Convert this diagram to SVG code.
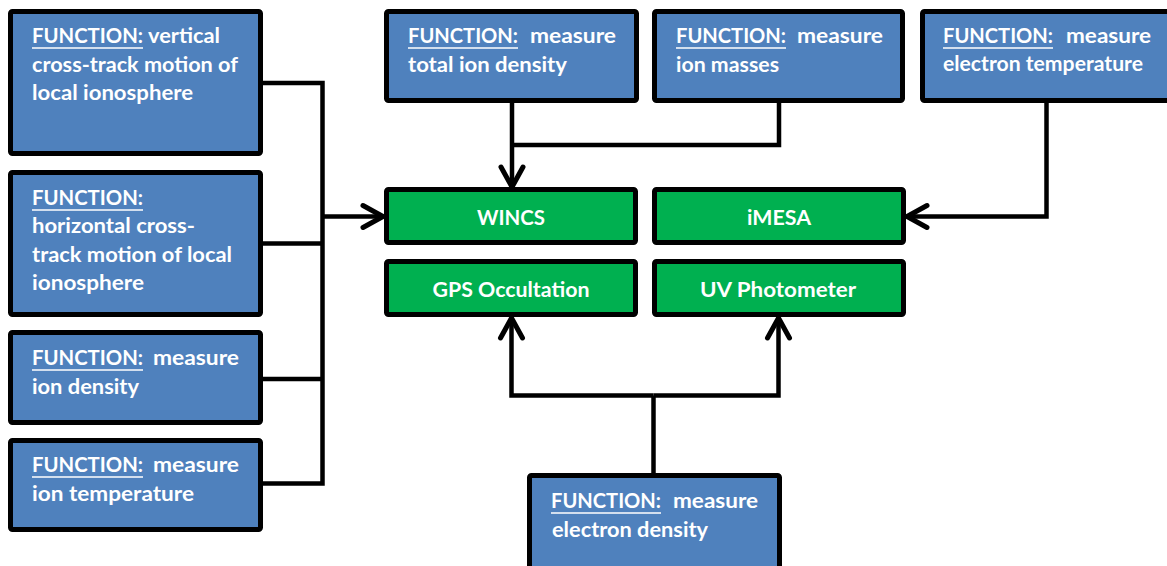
<svg xmlns="http://www.w3.org/2000/svg" width="1167" height="566" viewBox="0 0 1167 566">
  <defs>
    <style>
      .fn { fill: #4F81BD; stroke: #000; stroke-width: 5; }
      .inst { fill: #00B050; stroke: #000; stroke-width: 5; }
      .t { font-family: Lato, "Liberation Sans", sans-serif; font-weight: bold; font-size: 21px; fill: #fff; }
      .c { text-anchor: middle; }
      .ul { stroke: #fff; stroke-width: 1.4; }
      .wire { fill: none; stroke: #000; stroke-width: 4.5; stroke-linejoin: miter; }
      .arrow { marker-end: url(#open); }
    </style>
    <marker id="open" markerUnits="userSpaceOnUse" markerWidth="40" markerHeight="40" viewBox="-30 -20 40 40" refX="0" refY="0" orient="auto" overflow="visible">
      <path d="M-20,-11 L0,0 L-20,11" fill="none" stroke="#000" stroke-width="5" stroke-linecap="round" stroke-linejoin="miter"/>
    </marker>
  </defs>

  <rect width="1167" height="566" fill="#fff"/>

  <!-- connectors -->
  <g id="connectors">
    <path class="wire" d="M263,83 H322.5 V483.5 H263"/>
    <path class="wire" d="M263,243.5 H322.5"/>
    <path class="wire" d="M263,379 H322.5"/>
    <path class="wire arrow" d="M322.5,216.5 H383"/>
    <path class="wire arrow" d="M512,103 V187"/>
    <path class="wire" d="M512,145 H779 V103"/>
    <path class="wire arrow" d="M1046.5,103 V216.5 H907"/>
    <path class="wire" d="M653.5,473 V395.5"/>
    <path class="wire arrow" d="M653.5,395.5 H511.5 V318"/>
    <path class="wire arrow" d="M653.5,395.5 H778.5 V318"/>
  </g>

  <!-- function boxes -->
  <g id="fn-vertical">
    <rect class="fn" x="10.5" y="11.5" width="250" height="142" rx="2"/>
    <text class="t" x="32" y="43" textLength="111" lengthAdjust="spacingAndGlyphs">FUNCTION:</text>
    <line class="ul" x1="32" y1="48" x2="143" y2="48"/>
    <text class="t" x="148" y="43" textLength="72" lengthAdjust="spacingAndGlyphs">vertical</text>
    <text class="t" x="32" y="72" textLength="206" lengthAdjust="spacingAndGlyphs">cross-track motion of</text>
    <text class="t" x="32" y="100" textLength="161" lengthAdjust="spacingAndGlyphs">local ionosphere</text>
  </g>

  <g id="fn-horizontal">
    <rect class="fn" x="10.5" y="172.5" width="250" height="142" rx="2"/>
    <text class="t" x="32" y="205" textLength="111" lengthAdjust="spacingAndGlyphs">FUNCTION:</text>
    <line class="ul" x1="32" y1="210" x2="143" y2="210"/>
    <text class="t" x="32" y="233" textLength="163" lengthAdjust="spacingAndGlyphs">horizontal cross-</text>
    <text class="t" x="32" y="262" textLength="200" lengthAdjust="spacingAndGlyphs">track motion of local</text>
    <text class="t" x="32" y="290" textLength="112" lengthAdjust="spacingAndGlyphs">ionosphere</text>
  </g>

  <g id="fn-ion-density">
    <rect class="fn" x="10.5" y="332.5" width="250" height="90" rx="2"/>
    <text class="t" x="32" y="365" textLength="111" lengthAdjust="spacingAndGlyphs">FUNCTION:</text>
    <line class="ul" x1="32" y1="370" x2="143" y2="370"/>
    <text class="t" x="153" y="365" textLength="86" lengthAdjust="spacingAndGlyphs">measure</text>
    <text class="t" x="32" y="394" textLength="107" lengthAdjust="spacingAndGlyphs">ion density</text>
  </g>

  <g id="fn-ion-temperature">
    <rect class="fn" x="10.5" y="440.5" width="250" height="89" rx="2"/>
    <text class="t" x="32" y="472" textLength="111" lengthAdjust="spacingAndGlyphs">FUNCTION:</text>
    <line class="ul" x1="32" y1="477" x2="143" y2="477"/>
    <text class="t" x="153" y="472" textLength="86" lengthAdjust="spacingAndGlyphs">measure</text>
    <text class="t" x="32" y="501" textLength="162" lengthAdjust="spacingAndGlyphs">ion temperature</text>
  </g>

  <g id="fn-total-ion-density">
    <rect class="fn" x="386.5" y="11.5" width="250" height="89" rx="2"/>
    <text class="t" x="408" y="43" textLength="110" lengthAdjust="spacingAndGlyphs">FUNCTION:</text>
    <line class="ul" x1="408" y1="48" x2="518" y2="48"/>
    <text class="t" x="530" y="43" textLength="86" lengthAdjust="spacingAndGlyphs">measure</text>
    <text class="t" x="408" y="72" textLength="159" lengthAdjust="spacingAndGlyphs">total ion density</text>
  </g>

  <g id="fn-ion-masses">
    <rect class="fn" x="654.5" y="11.5" width="248" height="89" rx="2"/>
    <text class="t" x="676" y="43" textLength="110" lengthAdjust="spacingAndGlyphs">FUNCTION:</text>
    <line class="ul" x1="676" y1="48" x2="786" y2="48"/>
    <text class="t" x="797" y="43" textLength="86" lengthAdjust="spacingAndGlyphs">measure</text>
    <text class="t" x="676" y="72" textLength="103" lengthAdjust="spacingAndGlyphs">ion masses</text>
  </g>

  <g id="fn-electron-temperature">
    <rect class="fn" x="922.5" y="11.5" width="260" height="89" rx="2"/>
    <text class="t" x="943" y="43" textLength="110" lengthAdjust="spacingAndGlyphs">FUNCTION:</text>
    <line class="ul" x1="943" y1="48" x2="1053" y2="48"/>
    <text class="t" x="1066" y="43" textLength="85" lengthAdjust="spacingAndGlyphs">measure</text>
    <text class="t" x="943" y="71" font-size="18" textLength="200" lengthAdjust="spacingAndGlyphs">electron temperature</text>
  </g>

  <g id="fn-electron-density">
    <rect class="fn" x="529.5" y="475.5" width="250" height="100" rx="2"/>
    <text class="t" x="551" y="508" textLength="110" lengthAdjust="spacingAndGlyphs">FUNCTION:</text>
    <line class="ul" x1="551" y1="513" x2="661" y2="513"/>
    <text class="t" x="673" y="508" textLength="85" lengthAdjust="spacingAndGlyphs">measure</text>
    <text class="t" x="552" y="537" textLength="156" lengthAdjust="spacingAndGlyphs">electron density</text>
  </g>

  <!-- instruments -->
  <g id="wincs">
    <rect class="inst" x="386.5" y="189.5" width="249" height="53" rx="2"/>
    <text class="t c" x="511" y="225" textLength="68" lengthAdjust="spacingAndGlyphs">WINCS</text>
  </g>
  <g id="imesa">
    <rect class="inst" x="654.5" y="189.5" width="249" height="53" rx="2"/>
    <text class="t c" x="779" y="225" textLength="64" lengthAdjust="spacingAndGlyphs">iMESA</text>
  </g>
  <g id="gps-occultation">
    <rect class="inst" x="386.5" y="261.5" width="249" height="53" rx="2"/>
    <text class="t c" x="511" y="297" textLength="157" lengthAdjust="spacingAndGlyphs">GPS Occultation</text>
  </g>
  <g id="uv-photometer">
    <rect class="inst" x="654.5" y="261.5" width="249" height="53" rx="2"/>
    <text class="t c" x="778" y="297" textLength="156" lengthAdjust="spacingAndGlyphs">UV Photometer</text>
  </g>
</svg>
